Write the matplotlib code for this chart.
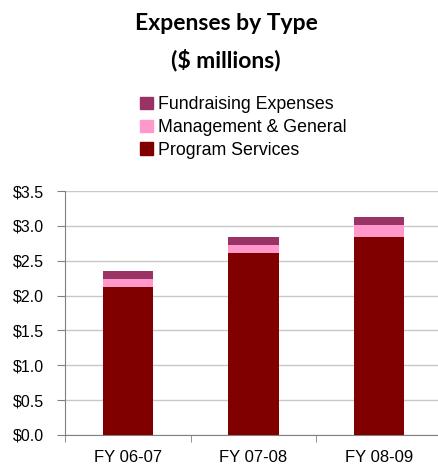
import matplotlib

matplotlib.use("Agg")
import matplotlib.pyplot as plt
from matplotlib.patches import Patch

# values in $ millions
years = ["FY 06-07", "FY 07-08", "FY 08-09"]
program = [2.12, 2.61, 2.84]
management = [0.12, 0.12, 0.17]
fundraising = [0.11, 0.11, 0.12]
yticks = [0.0, 0.5, 1.0, 1.5, 2.0, 2.5, 3.0, 3.5]

c_prog = "#800000"
c_mgmt = "#FF99CC"
c_fund = "#993366"

plt.rcParams["font.family"] = ["Liberation Sans", "DejaVu Sans"]

fig = plt.figure(figsize=(4.38, 4.68), dpi=100)
ax = fig.add_axes([65 / 438, 1 - 435 / 468, 377 / 438, 244 / 468])

x = list(range(len(years)))
bottom2 = [p + m for p, m in zip(program, management)]
ax.bar(x, program, width=0.4, color=c_prog, zorder=3)
ax.bar(x, management, width=0.4, bottom=program, color=c_mgmt, zorder=3)
ax.bar(x, fundraising, width=0.4, bottom=bottom2, color=c_fund, zorder=3)

ax.set_xlim(-0.5, 2.5)
ax.set_ylim(0, 3.5)
ax.set_yticks(yticks)
ax.set_yticklabels([f"${v:.1f}" for v in yticks], fontsize=11.5)
ax.set_xticks(x)
ax.set_xticklabels(years, fontsize=12)
ax.set_xticks([-0.5, 0.5, 1.5, 2.5], minor=True)
ax.tick_params(axis="x", which="major", length=0, pad=11)
ax.tick_params(axis="x", which="minor", length=5, color="#808080")
ax.tick_params(axis="y", length=6, color="#808080", pad=9)
ax.grid(axis="y", color="#C8C8C8", lw=1, zorder=0)
for s in ("top", "right"):
    ax.spines[s].set_visible(False)
for s in ("left", "bottom"):
    ax.spines[s].set_color("#808080")

fig.text(226 / 438, 1 - 24 / 468, "Expenses by Type", ha="center", va="center",
         fontsize=16.5, fontweight="bold", family=["Lato", "DejaVu Sans"])
fig.text(226 / 438, 1 - 60 / 468, "($ millions)", ha="center", va="center",
         fontsize=16.5, fontweight="bold", family=["Lato", "DejaVu Sans"])

handles = [Patch(color=c_fund), Patch(color=c_mgmt), Patch(color=c_prog)]
labels = ["Fundraising Expenses", "Management & General", "Program Services"]
fig.legend(handles, labels, loc="upper left", bbox_to_anchor=(133 / 438, 1 - 89 / 468),
           frameon=False, fontsize=12.8, handlelength=0.7, handleheight=0.7,
           handletextpad=0.3, labelspacing=0.33, borderaxespad=0)

fig.savefig("out.png", dpi=100)
